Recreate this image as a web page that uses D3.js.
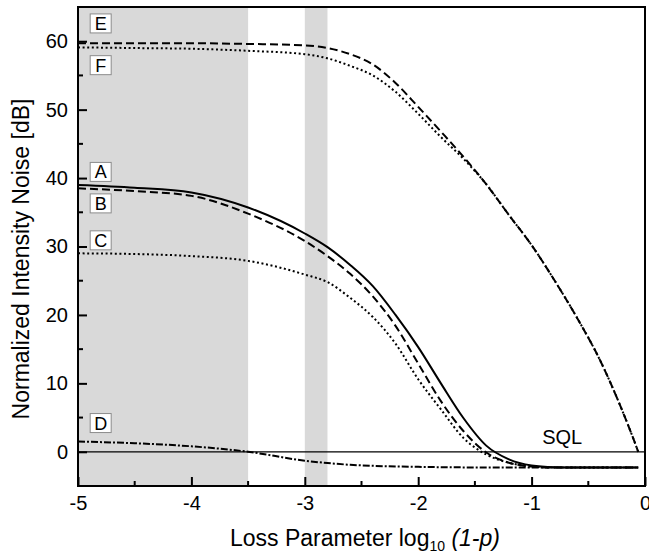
<!DOCTYPE html>
<html>
<head>
<meta charset="utf-8">
<script src="https://cdn.jsdelivr.net/npm/d3@7"></script>
<style>
  body { margin: 0; background: #fff; }
  text { font-family: "Liberation Sans", Arial, sans-serif; fill: #000; }
</style>
</head>
<body>
<div id="chart"></div>
<script>
const xs = [-5, -4.5, -4, -3.5, -3, -2.8, -2.6, -2.4, -2.2, -2.0, -1.8, -1.6, -1.4, -1.2, -1.0, -0.8, -0.6, -0.4, -0.2, -0.1, -0.06];

const seriesA = [39.0, 38.6, 37.9, 35.7, 31.9, 29.9, 27.3, 24.2, 20.0, 15.3, 10.0, 4.9, 0.9, -1.1, -2.0, -2.25, -2.3, -2.3, -2.3, -2.3, -2.3];
const seriesB = [38.5, 38.1, 37.4, 34.8, 30.8, 28.6, 26.0, 22.7, 18.4, 12.9, 7.4, 3.0, -0.1, -1.6, -2.15, -2.3, -2.3, -2.3, -2.3, -2.3, -2.3];
const seriesC = [29.0, 28.9, 28.6, 27.9, 25.9, 24.8, 22.5, 19.7, 15.8, 10.6, 6.2, 2.0, -0.4, -1.6, -2.15, -2.3, -2.3, -2.3, -2.3, -2.3, -2.3];
const seriesD = [1.5, 1.25, 0.8, 0.0, -1.3, -1.65, -1.9, -2.05, -2.15, -2.2, -2.25, -2.28, -2.3, -2.3, -2.3, -2.3, -2.3, -2.3, -2.3, -2.3, -2.3];
const seriesE = [59.7, 59.7, 59.7, 59.6, 59.4, 59.0, 58.1, 56.6, 53.9, 50.4, 46.8, 43.1, 39.1, 34.6, 30.2, 25.1, 19.6, 13.5, 6.0, 1.8, 0.0];
const seriesF = [59.1, 59.0, 58.9, 58.6, 58.1, 57.5, 56.4, 55.0, 52.6, 49.4, 46.0, 42.8, 39.1, 34.6, 30.2, 25.1, 19.6, 13.5, 6.0, 1.8, 0.0];

const bands = [[-5, -3.5], [-3, -2.8]];
const xTicks = [-5, -4, -3, -2, -1, 0];
const yTicks = [0, 10, 20, 30, 40, 50, 60];
const curveLabels = [
  { name: 'E', y: 62.6 },
  { name: 'F', y: 56.5 },
  { name: 'A', y: 40.9 },
  { name: 'B', y: 36.3 },
  { name: 'C', y: 30.9 },
  { name: 'D', y: 4.2 }
];
const labelX = -4.8;

const width = 649, height = 557;
const margin = { top: 7, right: 4, bottom: 71, left: 78 };

const svg = d3.select('#chart').append('svg')
  .attr('width', width)
  .attr('height', height);

const x = d3.scaleLinear().domain([-5, 0]).range([margin.left, width - margin.right]);
const y = d3.scaleLinear().domain([-5, 65]).range([height - margin.bottom, margin.top]);

// shaded regions
svg.append('g').selectAll('rect').data(bands).enter().append('rect')
  .attr('x', d => x(d[0]))
  .attr('y', y(65))
  .attr('width', d => x(d[1]) - x(d[0]))
  .attr('height', y(-5) - y(65))
  .attr('fill', '#d9d9d9');

// SQL line
svg.append('line')
  .attr('x1', x(-5)).attr('x2', x(0))
  .attr('y1', y(0)).attr('y2', y(0))
  .attr('stroke', '#000').attr('stroke-width', 1.3);

svg.append('text')
  .attr('x', x(-0.73)).attr('y', y(0) - 8)
  .attr('text-anchor', 'middle')
  .attr('font-size', 20)
  .text('SQL');

const line = vals => d3.line()
  .x((d, i) => x(xs[i]))
  .y(d => y(d))
  .curve(d3.curveMonotoneX)(vals);

const series = [
  { vals: seriesA, dash: null },
  { vals: seriesB, dash: '8,4' },
  { vals: seriesC, dash: '2,2.6' },
  { vals: seriesD, dash: '7,2,2,2' },
  { vals: seriesE, dash: '8,4' },
  { vals: seriesF, dash: '2,2.6' }
];

svg.append('g').selectAll('path').data(series).enter().append('path')
  .attr('d', d => line(d.vals))
  .attr('fill', 'none')
  .attr('stroke', '#000')
  .attr('stroke-width', 2)
  .attr('stroke-dasharray', d => d.dash);

// curve labels
const lab = svg.append('g').selectAll('g').data(curveLabels).enter().append('g')
  .attr('transform', d => `translate(${x(labelX)},${y(d.y)})`);
lab.append('rect')
  .attr('x', -10.5).attr('y', -9.5)
  .attr('width', 21).attr('height', 19)
  .attr('fill', '#fff')
  .attr('stroke', '#8c8c8c')
  .attr('stroke-width', 1);
lab.append('text')
  .attr('text-anchor', 'middle')
  .attr('dy', '0.36em')
  .attr('font-size', 18)
  .text(d => d.name);

// axes
const xAxis = d3.axisBottom(x).tickValues(xTicks).tickSize(-9).tickPadding(10).tickFormat(d3.format('d'));
const yAxis = d3.axisLeft(y).tickValues(yTicks).tickSize(-9).tickPadding(10).tickFormat(d3.format('d'));

const gx = svg.append('g').attr('transform', `translate(0,${y(-5)})`).call(xAxis);
const gy = svg.append('g').attr('transform', `translate(${x(-5)},0)`).call(yAxis);
[gx, gy].forEach(g => {
  g.select('.domain').remove();
  g.selectAll('line').attr('stroke', '#000').attr('stroke-width', 2);
  g.selectAll('text').attr('font-size', 20).attr('font-family', '"Liberation Sans", Arial, sans-serif');
});
gx.selectAll('text').text(d => String(d).replace('\u2212', '-'));

// minor ticks
const xMinor = d3.range(-4.5, 0, 1);
const yMinor = d3.range(5, 65, 10);
svg.append('g').selectAll('line').data(xMinor).enter().append('line')
  .attr('x1', d => x(d)).attr('x2', d => x(d))
  .attr('y1', y(-5)).attr('y2', y(-5) - 5)
  .attr('stroke', '#000').attr('stroke-width', 2);
svg.append('g').selectAll('line').data(yMinor).enter().append('line')
  .attr('x1', x(-5)).attr('x2', x(-5) + 5)
  .attr('y1', d => y(d)).attr('y2', d => y(d))
  .attr('stroke', '#000').attr('stroke-width', 2);

// frame
svg.append('rect')
  .attr('x', x(-5)).attr('y', y(65))
  .attr('width', x(0) - x(-5)).attr('height', y(-5) - y(65))
  .attr('fill', 'none')
  .attr('stroke', '#000')
  .attr('stroke-width', 2);

// axis titles
const xt = svg.append('text')
  .attr('x', 365).attr('y', 546)
  .attr('text-anchor', 'middle')
  .attr('font-size', 23);
xt.append('tspan').text('Loss Parameter log');
xt.append('tspan').attr('font-size', 14).attr('dy', 5).text('10');
xt.append('tspan').attr('dy', -5).text(' ');
xt.append('tspan').attr('font-style', 'italic').text('(1-p)');

svg.append('text')
  .attr('transform', `translate(29,259) rotate(-90)`)
  .attr('text-anchor', 'middle')
  .attr('font-size', 23)
  .text('Normalized Intensity Noise [dB]');
</script>
</body>
</html>
